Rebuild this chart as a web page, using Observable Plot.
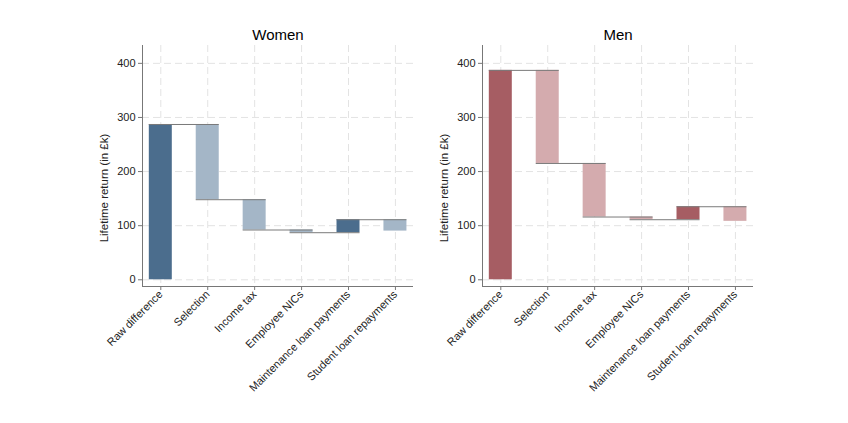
<!DOCTYPE html>
<html><head><meta charset="utf-8">
<script src="https://cdn.jsdelivr.net/npm/d3@7"></script>
<script src="https://cdn.jsdelivr.net/npm/@observablehq/plot@0.6"></script>
<style>
body{margin:0;background:#fff;}
#chart{display:flex;width:848px;height:423px;background:#fff;}
#chart svg{flex:none;}
</style></head><body><div id="chart"></div>
<script>
const categories = ["Raw difference","Selection","Income tax","Employee NICs","Maintenance loan payments","Student loan repayments"];
const womenLevels = [287,148,92,87,111,90];
const menLevels = [387,215,116,111,135,108];
const panelTitles = ["Women","Men"];
const yTicks = [0,100,200,300,400];
const yLabel = "Lifetime return (in £k)";
const womenColors = ["#4b6d8d","#a4b6c7"];
const menColors = ["#a65d63","#d4abae"];

const xDomain = [-0.39, 5.385];
const yDomain = [-12.4, 433];

function panel(title, levels, colors, ml, mr) {
  const rows = levels.map((v,i)=>({i, cat:categories[i], from: i===0?0:levels[i-1], to:v}));
  const links = rows.slice(0,-1).map(d=>({i:d.i, y:d.to}));
  const hw = 0.245;
  return Plot.plot({
    width:424, height:423, marginLeft:ml, marginRight:mr, marginTop:45, marginBottom:137,
    style:{fontFamily:"'Liberation Sans', Arial, sans-serif", fontSize:"11px", color:"#222", background:"white", overflow:"visible"},
    x:{domain:xDomain, axis:null},
    y:{domain:yDomain, axis:null},
    marks:[
      Plot.gridY(yTicks, {stroke:"#e3e3e3", strokeOpacity:1, strokeDasharray:"7,4"}),
      Plot.gridX(d3.range(categories.length), {stroke:"#e3e3e3", strokeOpacity:1, strokeDasharray:"7,4"}),
      Plot.rectY(rows, {x1:d=>d.i-hw, x2:d=>d.i+hw, y1:"from", y2:"to", fill:d=> d.to>=d.from ? colors[0] : colors[1]}),
      Plot.ruleY(links, {y:"y", x1:d=>d.i-hw, x2:d=>d.i+1+hw, stroke:"#7a7a7a", strokeWidth:1}),
      Plot.axisY(yTicks, {tickSize:4, tickPadding:3, stroke:"#777", fill:"#222", fontSize:11}),
      Plot.axisX(d3.range(categories.length), {tickFormat:i=>categories[i], tickRotate:-45, tickSize:4, tickPadding:2, stroke:"#777", fill:"#222", fontSize:11}),
      Plot.ruleX([xDomain[0]], {stroke:"#777"}),
      Plot.ruleY([yDomain[0]], {stroke:"#777"}),
      Plot.text([title], {frameAnchor:"top", lineAnchor:"middle", textAnchor:"middle", dy:-10, fontSize:15, fill:"#000"}),
      Plot.text([yLabel], {frameAnchor:"left", textAnchor:"middle", lineAnchor:"middle", rotate:-90, dx:-38, dy:22, fontSize:11.5, fill:"#222"})
    ]
  });
}
const chart = document.getElementById("chart");
chart.appendChild(panel(panelTitles[0], womenLevels, womenColors, 142, 11));
chart.appendChild(panel(panelTitles[1], menLevels, menColors, 58, 95));
</script></body></html>
